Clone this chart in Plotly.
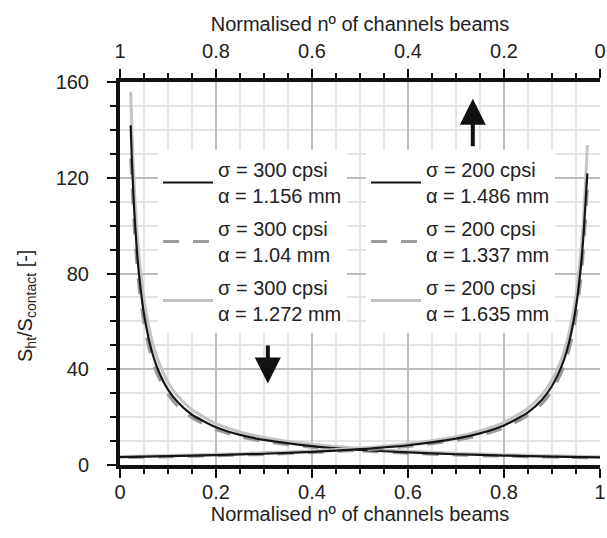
import plotly.graph_objects as go

# ---------------- data ----------------
# curves read against the bottom axis (decreasing)
x_bottom = [0.0222, 0.025, 0.03, 0.035, 0.04, 0.05, 0.06, 0.07, 0.08, 0.1, 0.12,
            0.15, 0.2, 0.25, 0.3, 0.4, 0.5, 0.6, 0.7, 0.8, 0.9, 1.0]
y_300_1156 = [141.9, 126.0, 105.0, 90.0, 78.8, 63.0, 52.5, 45.0, 39.4, 31.5, 26.3,
              21.0, 15.8, 12.6, 10.5, 7.9, 6.3, 5.25, 4.5, 3.94, 3.5, 3.15]
y_300_104 = [128.0, 117.0, 98.3, 84.3, 73.8, 59.0, 49.2, 42.1, 36.9, 29.5, 24.6,
             19.7, 14.8, 11.8, 9.8, 7.4, 5.9, 4.9, 4.2, 3.7, 3.3, 2.95]
y_300_1272 = [155.9, 138.4, 115.3, 98.9, 86.5, 69.2, 57.7, 49.4, 43.3, 34.6, 28.8,
              23.1, 17.3, 13.8, 11.5, 8.65, 6.92, 5.77, 4.94, 4.33, 3.84, 3.46]

# curves read against the top axis (reversed, increasing towards the right)
x_top = [0.0264, 0.03, 0.035, 0.04, 0.05, 0.06, 0.07, 0.08, 0.1, 0.12, 0.15,
         0.2, 0.25, 0.3, 0.4, 0.5, 0.6, 0.7, 0.8, 0.9, 1.0]
y_200_1486 = [121.8, 110.0, 94.3, 82.5, 66.0, 55.0, 47.1, 41.3, 33.0, 27.5, 22.0,
              16.5, 13.2, 11.0, 8.25, 6.6, 5.5, 4.71, 4.13, 3.67, 3.3]
y_200_1337 = [115.0, 103.3, 88.6, 77.5, 62.0, 51.7, 44.3, 38.8, 31.0, 25.8, 20.7,
              15.5, 12.4, 10.3, 7.75, 6.2, 5.17, 4.43, 3.88, 3.44, 3.1]
y_200_1635 = [133.7, 118.3, 101.4, 88.8, 71.0, 59.2, 50.7, 44.4, 35.5, 29.6, 23.7,
              17.8, 14.2, 11.8, 8.9, 7.1, 5.9, 5.07, 4.44, 3.94, 3.55]

names_300 = ["σ = 300 cpsi<br>α = 1.156 mm", "σ = 300 cpsi<br>α = 1.04 mm",
             "σ = 300 cpsi<br>α = 1.272 mm"]
names_200 = ["σ = 200 cpsi<br>α = 1.486 mm", "σ = 200 cpsi<br>α = 1.337 mm",
             "σ = 200 cpsi<br>α = 1.635 mm"]

x_ticks = [0, 0.2, 0.4, 0.6, 0.8, 1]
x_ticktext = ["0", "0.2", "0.4", "0.6", "0.8", "1"]
y_ticks = [0, 40, 80, 120, 160]
axis_title = "Normalised nº of channels beams"
y_title = "S<sub>ht</sub>/S<sub>contact</sub> [-]"

# ---------------- styles ----------------
FONT = "Liberation Sans, Arial, sans-serif"
TXT = "#222222"
BLACK = "#151515"
DGRAY = "#9a9a9a"
LGRAY = "#c4c4c4"
styles = [dict(color=BLACK, width=2.2),
          dict(color=DGRAY, width=3, dash="16px,14px"),
          dict(color=LGRAY, width=3)]

fig = go.Figure()

order = [2, 1, 0]  # light gray first, dashed, black on top
bottom_data = [y_300_1156, y_300_104, y_300_1272]
top_data = [y_200_1486, y_200_1337, y_200_1635]

for i in order:
    fig.add_trace(go.Scatter(
        x=x_bottom, y=bottom_data[i], mode="lines", name=names_300[i],
        line=dict(shape="spline", smoothing=0.6, **styles[i]),
        xaxis="x", yaxis="y", legend="legend", legendrank=i + 1,
        legendgroup="b%d" % i,
    ))
for i in order:
    fig.add_trace(go.Scatter(
        x=x_top, y=top_data[i], mode="lines", name=names_200[i],
        line=dict(shape="spline", smoothing=0.6, **styles[i]),
        xaxis="x2", yaxis="y", legend="legend2", legendrank=i + 1,
        legendgroup="t%d" % i,
    ))

W, H = 607, 538
L, R, T, B = 120, 7, 82, 73
pw, ph = W - L - R, H - T - B

def px2paper_x(px):
    return (px - L) / pw

def px2paper_y(py):
    return (H - B - py) / ph

common_axis = dict(
    showline=True, linecolor="#111111", linewidth=4,
    ticks="outside", tickcolor="#111111", tickwidth=1.5, ticklen=9,
    tickfont=dict(size=20, color=TXT, family=FONT),
    zeroline=False, automargin=False,
)

legend_common = dict(
    bgcolor="white", borderwidth=0, itemwidth=50,
    font=dict(size=20, color=TXT, family=FONT),
    traceorder="grouped", tracegroupgap=4,
    xanchor="left", yanchor="top",
)

fig.update_layout(
    width=W, height=H,
    margin=dict(l=L, r=R, t=T, b=B, autoexpand=False),
    paper_bgcolor="white", plot_bgcolor="white",
    font=dict(family=FONT, size=20, color=TXT),
    xaxis=dict(
        range=[0, 1], tickvals=x_ticks, ticktext=x_ticktext,
        showgrid=True, gridcolor="#bdbdbd", gridwidth=1.5,
        minor=dict(dtick=0.05, tick0=0, showgrid=True, gridcolor="#e4e4e4", gridwidth=1.5,
                   ticks="outside", ticklen=5, tickcolor="#111111", tickwidth=1.5),
        title=dict(text=axis_title, font=dict(size=20, color=TXT, family=FONT), standoff=0),
        ticklabelstandoff=-3,
        **common_axis,
    ),
    xaxis2=dict(
        range=[1, 0], overlaying="x", side="top", anchor="y",
        tickvals=x_ticks, ticktext=x_ticktext,
        showgrid=False,
        minor=dict(dtick=0.05, tick0=0, showgrid=False,
                   ticks="outside", ticklen=5, tickcolor="#111111", tickwidth=1.5),
        title=dict(text=axis_title, font=dict(size=20, color=TXT, family=FONT), standoff=4),
        ticklabelstandoff=3,
        **common_axis,
    ),
    yaxis=dict(
        range=[0, 160], tickvals=y_ticks,
        showgrid=True, gridcolor="#bdbdbd", gridwidth=1.5,
        minor=dict(dtick=10, tick0=0, showgrid=True, gridcolor="#e4e4e4", gridwidth=1.5,
                   ticks="outside", ticklen=6, tickcolor="#111111", tickwidth=1.5),
        ticklabelstandoff=14,
        **common_axis,
    ),
    legend=dict(x=px2paper_x(158), y=px2paper_y(150), **legend_common),
    legend2=dict(x=px2paper_x(366), y=px2paper_y(150), **legend_common),
    showlegend=True,
)

# y-axis title as rotated text
fig.add_annotation(
    text=y_title, xref="paper", yref="paper", xanchor="center", yanchor="middle",
    x=px2paper_x(26), y=px2paper_y(306), showarrow=False, textangle=-90,
    font=dict(size=20, color=TXT, family=FONT),
)

# arrows indicating which axis applies
fig.add_annotation(
    x=0.735, y=153.0, ax=0.735, ay=132.5, xref="x", yref="y", axref="x", ayref="y",
    text="", showarrow=True, arrowhead=2, arrowsize=1.3, arrowwidth=4, arrowcolor="#111111",
)
fig.add_annotation(
    x=0.308, y=34.0, ax=0.308, ay=50.5, xref="x", yref="y", axref="x", ayref="y",
    text="", showarrow=True, arrowhead=2, arrowsize=1.3, arrowwidth=4, arrowcolor="#111111",
)

fig.write_html("out.html")
